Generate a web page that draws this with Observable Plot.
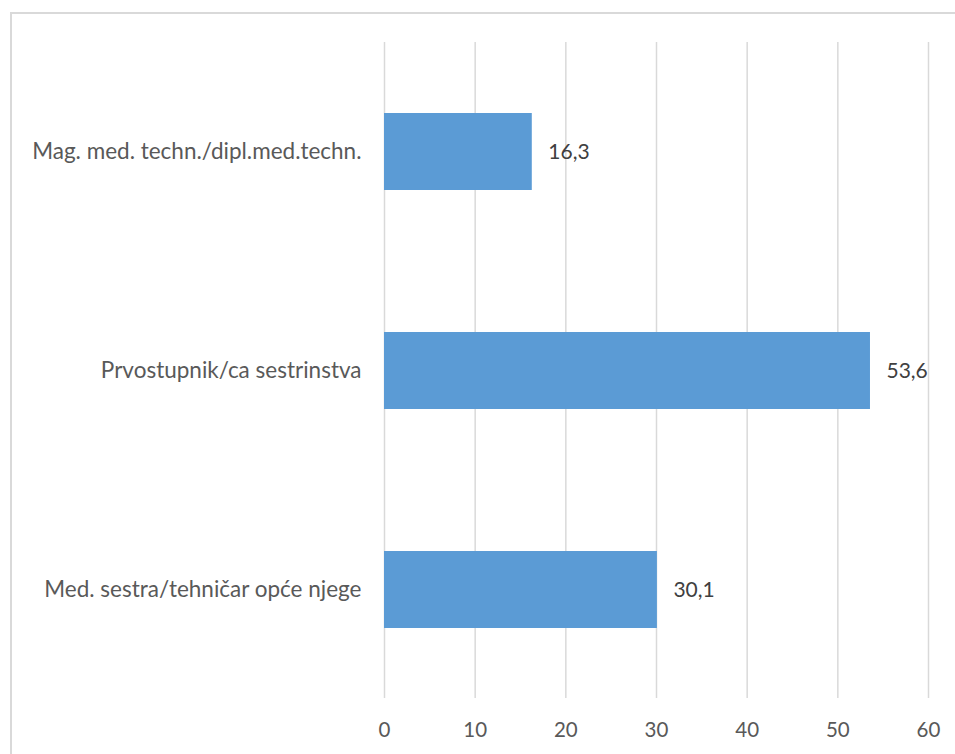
<!DOCTYPE html>
<html>
<head>
<meta charset="utf-8">
<script src="https://cdn.jsdelivr.net/npm/d3@7"></script>
<script src="https://cdn.jsdelivr.net/npm/@observablehq/plot@0.6"></script>
<style>
  html, body { margin: 0; padding: 0; background: #fff; overflow: hidden; }
  #wrap { position: relative; width: 955px; height: 754px; }
  #border { position: absolute; left: 10px; top: 12px; width: 960px; height: 760px;
            border: 2px solid #d9d9d9; box-sizing: border-box; pointer-events: none; }
</style>
</head>
<body>
<div id="wrap"><div id="border"></div></div>
<script>
const categories = [
  "Mag. med. techn./dipl.med.techn.",
  "Prvostupnik/ca sestrinstva",
  "Med. sestra/tehničar opće njege"
];
const values = [16.3, 53.6, 30.1];
const xTicks = [0, 10, 20, 30, 40, 50, 60];

const data = categories.map((c, i) => ({category: c, value: values[i]}));
const fmt = d => d.toFixed(1).replace(".", ",");
const font = "Lato, 'Open Sans', sans-serif";

const chart = Plot.plot({
  width: 955,
  height: 754,
  marginLeft: 384,
  marginRight: 27,
  marginTop: 42,
  marginBottom: 56,
  style: {fontFamily: font, fontSize: "21px", background: "transparent"},
  x: {domain: [0, 60], ticks: xTicks, label: null},
  y: {domain: categories, paddingInner: 0.65, paddingOuter: 0.32, label: null},
  marks: [
    Plot.gridX(xTicks, {stroke: "#d9d9d9", strokeOpacity: 1, strokeWidth: 1.5}),
    Plot.barX(data, {x: "value", y: "category", fill: "#5b9bd5"}),
    Plot.text(data, {x: "value", y: "category", text: d => fmt(d.value), dx: 16,
      textAnchor: "start", fill: "#404040", fontSize: 21}),
    Plot.axisX({ticks: xTicks, tickSize: 0, tickPadding: 24, fill: "#595959", fontSize: 20.5, label: null}),
    Plot.axisY({tickSize: 0, tickPadding: 23, fill: "#595959", fontSize: 22.5, label: null})
  ]
});
chart.style.position = "absolute";
chart.style.left = "0";
chart.style.top = "0";
document.getElementById("wrap").prepend(chart);
</script>
</body>
</html>
